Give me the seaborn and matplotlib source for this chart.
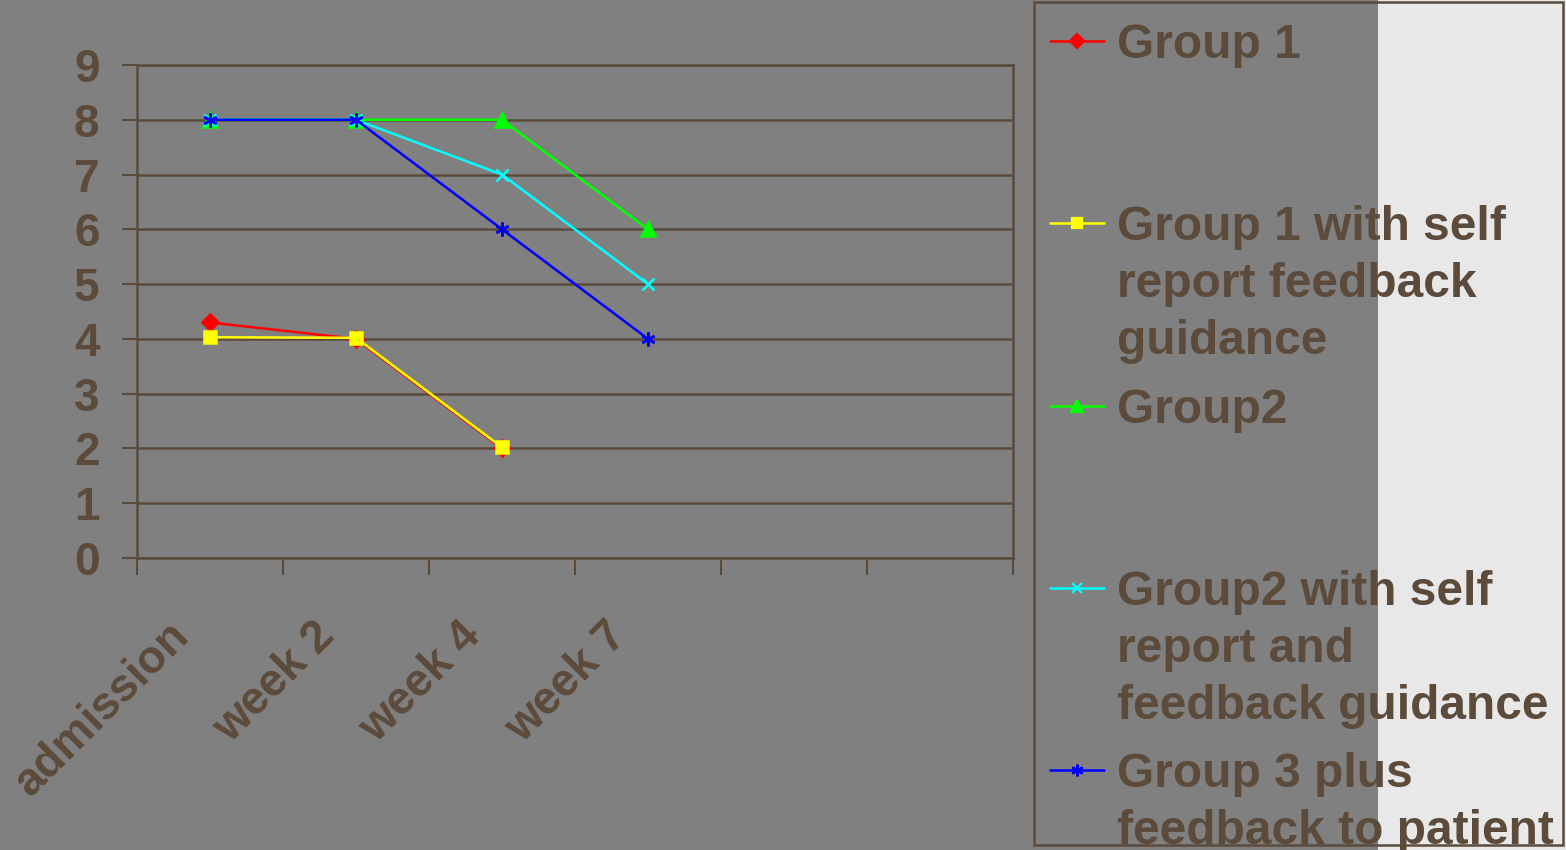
import numpy as np
import pandas as pd
import matplotlib
matplotlib.use("Agg")
import matplotlib.pyplot as plt
from matplotlib.lines import Line2D
from matplotlib.patches import Rectangle
import seaborn as sns

# ---- data ----
timepoints = ["admission", "week 2", "week 4", "week 7", "", ""]
group1 = [4.3, 4.0, 2.0, np.nan]
group1_self = [4.03, 4.02, 2.02, np.nan]
group2 = [8.0, 8.0, 8.0, 6.0]
group2_self = [8.0, 8.0, 7.0, 5.0]
group3_plus = [8.0, 8.0, 6.0, 4.0]
y_ticks = [0, 1, 2, 3, 4, 5, 6, 7, 8, 9]

series_names = [
    "Group 1",
    "Group 1 with self\nreport feedback\nguidance",
    "Group2",
    "Group2 with self\nreport and\nfeedback guidance",
    "Group 3 plus\nfeedback to patient",
]
series_values = [group1, group1_self, group2, group2_self, group3_plus]
series_colors = ["#ff0000", "#ffff00", "#00ff00", "#00ffff", "#0000ff"]
series_markers = ["D", "s", "^", "x", (6, 2, 0)]
series_msize = [8, 9, 10, 8, 10]

W, H = 1566, 850
BG = "#808080"
INK = "#5c4b3b"

sns.set_theme(style="white")
plt.rcParams["font.family"] = ["Liberation Sans", "DejaVu Sans"]
plt.rcParams["font.weight"] = "bold"

fig = plt.figure(figsize=(W / 100, H / 100), dpi=100, facecolor=BG)


def fx(px):
    return px / W


def fy(py):
    return 1 - py / H


# pale panel at the right edge
fig.add_artist(Rectangle((fx(1378), 0), fx(W) - fx(1378), 1, transform=fig.transFigure,
                         facecolor="#e8e8e8", edgecolor="none", zorder=0))

ax = fig.add_axes([fx(137), fy(558), fx(1013) - fx(137), fy(65) - fy(558)])
ax.set_facecolor(BG)

rows = []
for name, vals in zip(series_names, series_values):
    for i, v in enumerate(vals):
        rows.append({"series": name, "x": i, "score": v})
df = pd.DataFrame(rows).dropna()

for k, name in enumerate(series_names):
    sub = df[df["series"] == name]
    sns.lineplot(data=sub, x="x", y="score", ax=ax, color=series_colors[k],
                 marker=series_markers[k], markersize=series_msize[k],
                 markeredgecolor=series_colors[k], markeredgewidth=1.8,
                 linewidth=1.8, legend=False, zorder=3 + k, sort=False)

ax.set_xlim(-0.5, len(timepoints) - 0.5)
ax.set_ylim(0, 9)
ax.set_yticks(y_ticks)
ax.set_yticklabels([str(t) for t in y_ticks], fontsize=33, fontweight="bold", color=INK)
# rotated labels sit slightly left of each category centre
ax.set_xticks(np.arange(len(timepoints)) - 0.19)
ax.set_xticklabels(timepoints, fontsize=33, fontweight="bold", color=INK,
                   rotation=45, ha="right", va="center", rotation_mode="anchor")
ax.set_xticks(np.arange(len(timepoints) + 1) - 0.5, minor=True)
ax.tick_params(axis="x", which="major", length=0, pad=51)
ax.tick_params(axis="x", which="minor", length=12.5, width=1.5, color=INK, direction="out", bottom=True)
ax.tick_params(axis="y", length=11, width=1.5, color=INK, direction="out", pad=16, left=True)
ax.set_xlabel("")
ax.set_ylabel("")
ax.grid(axis="y", color=INK, linewidth=1.8)
ax.grid(axis="x", visible=False)
ax.set_axisbelow(True)
for sp in ax.spines.values():
    sp.set_visible(True)
    sp.set_color(INK)
    sp.set_linewidth(1.8)

# legend panel
fig.add_artist(Rectangle((fx(1034), fy(845)), fx(1563) - fx(1034), fy(2) - fy(845),
                         transform=fig.transFigure, facecolor="none", edgecolor=INK,
                         linewidth=1.8, zorder=5))
for k, name in enumerate(series_names):
    my = 41 + 182.3 * k
    fig.add_artist(Line2D([fx(1050), fx(1104)], [fy(my), fy(my)], transform=fig.transFigure,
                          color=series_colors[k], linewidth=1.8, marker=None, zorder=6))
    fig.add_artist(Line2D([fx(1077)], [fy(my)], transform=fig.transFigure,
                          color=series_colors[k], marker=series_markers[k],
                          markersize=series_msize[k] * 0.85, markeredgewidth=1.6,
                          markeredgecolor=series_colors[k], linestyle="none", zorder=6))
    for j, line in enumerate(name.split("\n")):
        fig.text(fx(1117), fy(my + 17 + 57 * j), line, fontsize=34.5, fontweight="bold",
                 color=INK, ha="left", va="baseline", zorder=7)

fig.savefig("out.png", dpi=100, facecolor=BG)
